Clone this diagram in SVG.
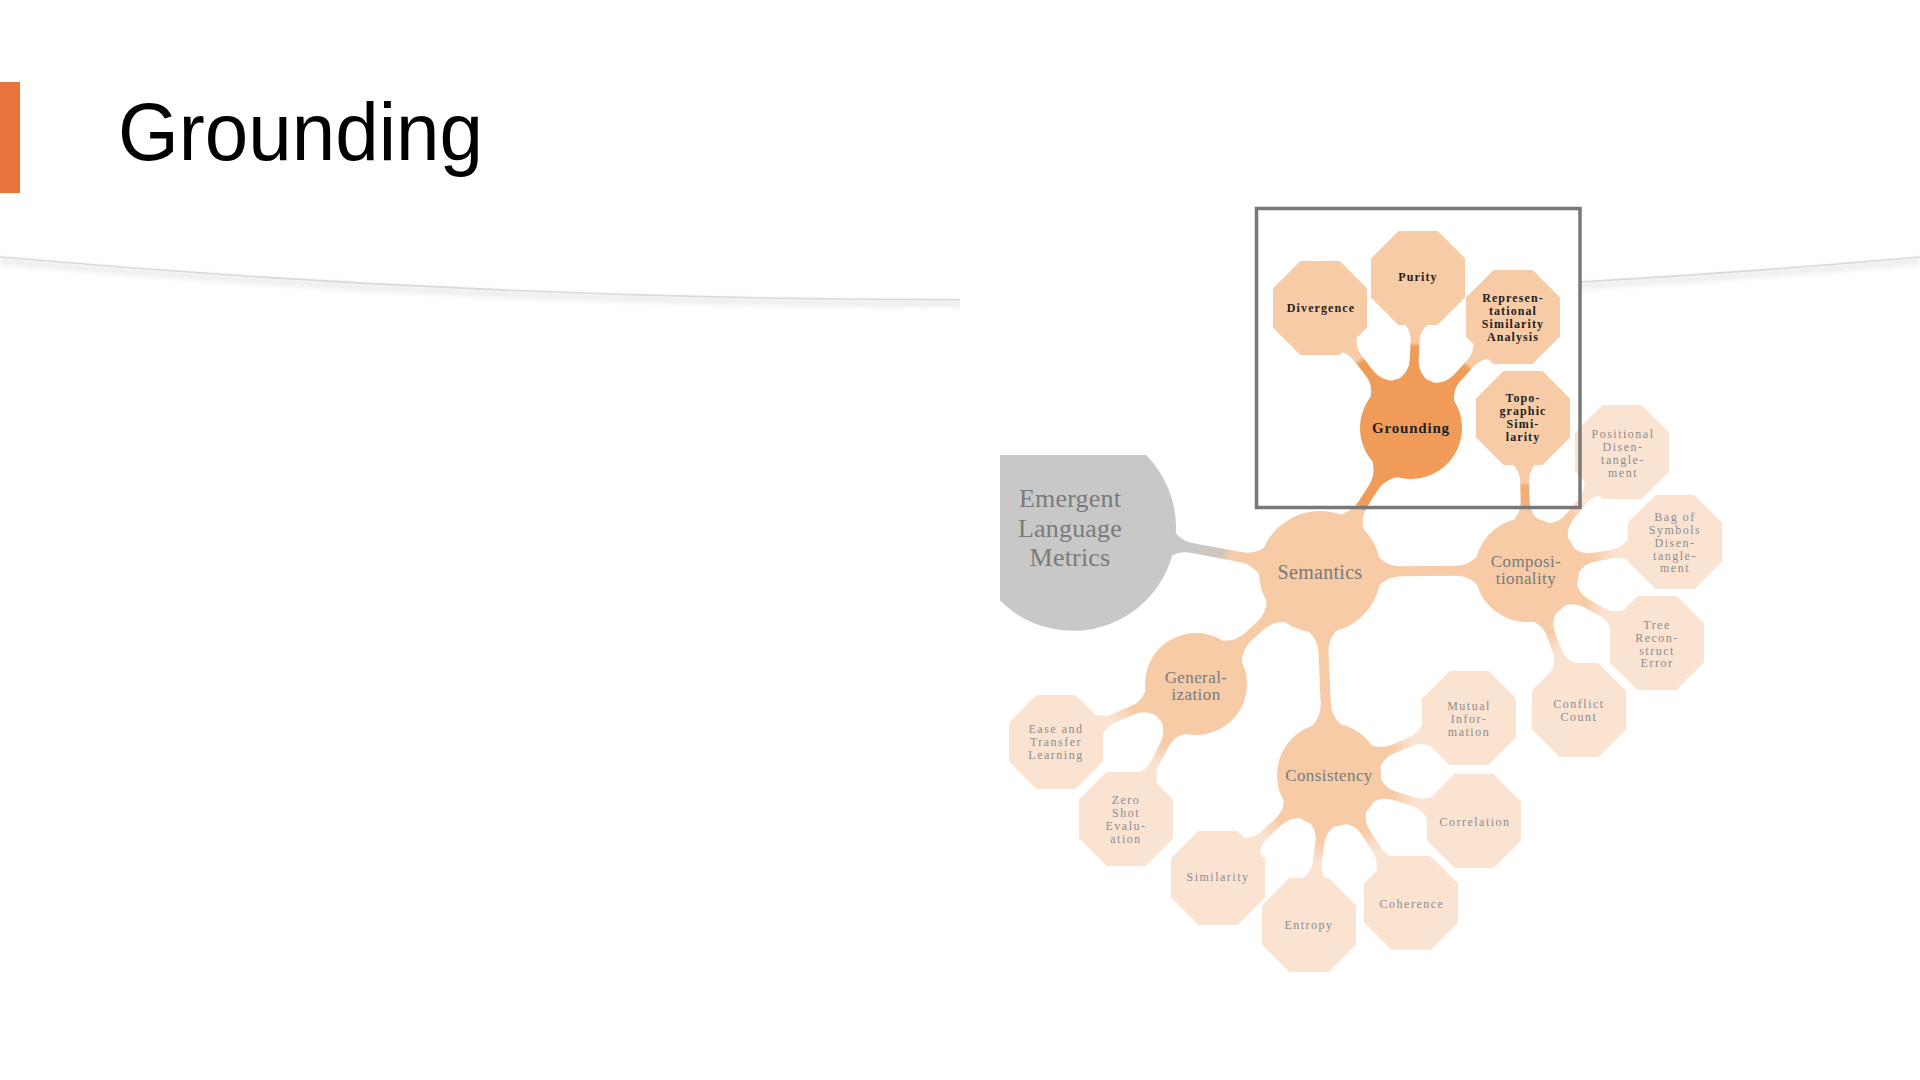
<svg xmlns="http://www.w3.org/2000/svg" width="1920" height="1080" viewBox="0 0 1920 1080">
<defs>
<style>
.peach{fill:#F7CBA5}
.light{fill:#FBE3D2}
.orange{fill:#F09B57}
.tin{font-family:'Liberation Serif','DejaVu Serif',serif;font-size:12px;font-weight:bold;fill:#222;letter-spacing:1.1px;text-anchor:middle;dominant-baseline:central}
.tout{font-family:'Liberation Serif','DejaVu Serif',serif;font-size:12px;fill:#8c8c8c;letter-spacing:1.5px;text-anchor:middle;dominant-baseline:central}
.tmain{font-family:'Liberation Serif','DejaVu Serif',serif;font-size:17px;fill:#7a7a7a;letter-spacing:0.4px;text-anchor:middle;dominant-baseline:central}
</style>
<polygon id="oct" points="-19.5,-47 19.5,-47 47,-19.5 47,19.5 19.5,47 -19.5,47 -47,19.5 -47,-19.5"/>
<linearGradient id="gE" x1="0" y1="0" x2="1" y2="0"><stop offset="0" stop-color="#F7CBA5"/><stop offset="0.36" stop-color="#F7CBA5"/><stop offset="0.44" stop-color="#D2C6BE"/><stop offset="0.75" stop-color="#C8C8C8"/><stop offset="1" stop-color="#C8C8C8"/></linearGradient>
<linearGradient id="gSG" x1="0" y1="0" x2="1" y2="0"><stop offset="0" stop-color="#F7CBA5"/><stop offset="0.3" stop-color="#F7CBA5"/><stop offset="0.34" stop-color="#F09B57"/><stop offset="1" stop-color="#F09B57"/></linearGradient>
<linearGradient id="gGL" x1="0" y1="0" x2="1" y2="0"><stop offset="0" stop-color="#F09B57"/><stop offset="0.55" stop-color="#F09B57"/><stop offset="0.62" stop-color="#F7CBA5"/><stop offset="1" stop-color="#F7CBA5"/></linearGradient>
<linearGradient id="gTo" x1="0" y1="0" x2="1" y2="0"><stop offset="0" stop-color="#F7CBA5"/><stop offset="0.26" stop-color="#F7CBA5"/><stop offset="0.29" stop-color="#F3AE75"/><stop offset="0.58" stop-color="#F3AE75"/><stop offset="0.62" stop-color="#F7CBA5"/><stop offset="1" stop-color="#F7CBA5"/></linearGradient>
<linearGradient id="gL" x1="0" y1="0" x2="1" y2="0"><stop offset="0" stop-color="#F7CBA5"/><stop offset="0.35" stop-color="#F7CBA5"/><stop offset="0.65" stop-color="#FBE3D2"/><stop offset="1" stop-color="#FBE3D2"/></linearGradient>
<clipPath id="arcclip"><rect x="0" y="200" width="960" height="170"/><rect x="1580" y="200" width="340" height="170"/></clipPath>
<filter id="soft" x="-5%" y="-50%" width="110%" height="200%"><feGaussianBlur stdDeviation="2.5"/></filter>
</defs>

<rect x="0" y="0" width="1920" height="1080" fill="#FFFFFF"/>

<g id="title">
<rect x="0" y="82" width="20" height="111" fill="#E8743B"/>
<text x="118" y="160" font-family="'Liberation Sans',Arial,sans-serif" font-size="81" fill="#000" textLength="365" lengthAdjust="spacingAndGlyphs">Grounding</text>
</g>

<g id="swoosh" clip-path="url(#arcclip)">
<path d="M0,261 Q960,346.6 1920,261" fill="none" stroke="#000" stroke-opacity="0.07" stroke-width="7" filter="url(#soft)"/>
<path d="M0,257 Q960,342.6 1920,257" fill="none" stroke="#D9D9D9" stroke-width="1.6"/>
</g>

<g id="connectors">
<path fill="url(#gE)" transform="translate(1320,572) rotate(190.65)" d="M51,-26 Q61,-5 81,-5 L131,-5 Q151,-5 161,-30 L161,30 Q151,5 131,5 L81,5 Q61,5 51,26Z"/>
<path fill="url(#gSG)" transform="translate(1320,572) rotate(-57.7)" d="M51,-26 Q61,-5 81,-5 L99,-5 Q119,-5 129,-26 L129,26 Q119,5 99,5 L81,5 Q61,5 51,26Z"/>
<path class="peach" transform="translate(1320,572) rotate(-0.55)" d="M51,-26 Q61,-5 81,-5 L135,-5 Q155,-5 165,-26 L165,26 Q155,5 135,5 L81,5 Q61,5 51,26Z"/>
<path class="peach" transform="translate(1320,572) rotate(137.9)" d="M51,-26 Q61,-5 81,-5 L96,-5 Q116,-5 126,-26 L126,26 Q116,5 96,5 L81,5 Q61,5 51,26Z"/>
<path class="peach" transform="translate(1320,572) rotate(87.5)" d="M51,-26 Q61,-5 81,-5 L131,-5 Q151,-5 161,-26 L161,26 Q151,5 131,5 L81,5 Q61,5 51,26Z"/>

<path fill="url(#gGL)" transform="translate(1411,428) rotate(-127.2)" d="M42,-24 Q52,-4.5 68,-4.5 L88,-4.5 Q104,-4.5 114,-24 L114,24 Q104,4.5 88,4.5 L68,4.5 Q52,4.5 42,24Z"/>
<path fill="url(#gGL)" transform="translate(1411,428) rotate(-87.3)" d="M42,-24 Q52,-4.5 68,-4.5 L87,-4.5 Q103,-4.5 113,-24 L113,24 Q103,4.5 87,4.5 L68,4.5 Q52,4.5 42,24Z"/>
<path fill="url(#gGL)" transform="translate(1411,428) rotate(-47.4)" d="M42,-24 Q52,-4.5 68,-4.5 L88,-4.5 Q104,-4.5 114,-24 L114,24 Q104,4.5 88,4.5 L68,4.5 Q52,4.5 42,24Z"/>

<path fill="url(#gTo)" transform="translate(1527,570) rotate(-91.5)" d="M42,-24 Q52,-4.5 68,-4.5 L89,-4.5 Q105,-4.5 115,-24 L115,24 Q105,4.5 89,4.5 L68,4.5 Q52,4.5 42,24Z"/>
<path fill="url(#gL)" transform="translate(1527,570) rotate(-51.2)" d="M42,-24 Q52,-4.5 68,-4.5 L89,-4.5 Q105,-4.5 115,-24 L115,24 Q105,4.5 89,4.5 L68,4.5 Q52,4.5 42,24Z"/>
<path fill="url(#gL)" transform="translate(1527,570) rotate(-10.7)" d="M42,-24 Q52,-4.5 68,-4.5 L88,-4.5 Q104,-4.5 114,-24 L114,24 Q104,4.5 88,4.5 L68,4.5 Q52,4.5 42,24Z"/>
<path fill="url(#gL)" transform="translate(1527,570) rotate(29.3)" d="M42,-24 Q52,-4.5 68,-4.5 L86,-4.5 Q102,-4.5 112,-24 L112,24 Q102,4.5 86,4.5 L68,4.5 Q52,4.5 42,24Z"/>
<path fill="url(#gL)" transform="translate(1527,570) rotate(69.6)" d="M42,-24 Q52,-4.5 68,-4.5 L86,-4.5 Q102,-4.5 112,-24 L112,24 Q102,4.5 86,4.5 L68,4.5 Q52,4.5 42,24Z"/>

<path fill="url(#gL)" transform="translate(1196,684) rotate(157.5)" d="M42,-24 Q52,-4.5 68,-4.5 L89,-4.5 Q105,-4.5 115,-24 L115,24 Q105,4.5 89,4.5 L68,4.5 Q52,4.5 42,24Z"/>
<path fill="url(#gL)" transform="translate(1196,684) rotate(117.4)" d="M42,-24 Q52,-4.5 68,-4.5 L89,-4.5 Q105,-4.5 115,-24 L115,24 Q105,4.5 89,4.5 L68,4.5 Q52,4.5 42,24Z"/>

<path fill="url(#gL)" transform="translate(1329,775) rotate(-22.2)" d="M42,-24 Q52,-4.5 68,-4.5 L88,-4.5 Q104,-4.5 114,-24 L114,24 Q104,4.5 88,4.5 L68,4.5 Q52,4.5 42,24Z"/>
<path fill="url(#gL)" transform="translate(1329,775) rotate(17.6)" d="M42,-24 Q52,-4.5 68,-4.5 L89,-4.5 Q105,-4.5 115,-24 L115,24 Q105,4.5 89,4.5 L68,4.5 Q52,4.5 42,24Z"/>
<path fill="url(#gL)" transform="translate(1329,775) rotate(57.4)" d="M42,-24 Q52,-4.5 68,-4.5 L89,-4.5 Q105,-4.5 115,-24 L115,24 Q105,4.5 89,4.5 L68,4.5 Q52,4.5 42,24Z"/>
<path fill="url(#gL)" transform="translate(1329,775) rotate(97.6)" d="M42,-24 Q52,-4.5 68,-4.5 L88,-4.5 Q104,-4.5 114,-24 L114,24 Q104,4.5 88,4.5 L68,4.5 Q52,4.5 42,24Z"/>
<path fill="url(#gL)" transform="translate(1329,775) rotate(137.1)" d="M42,-24 Q52,-4.5 68,-4.5 L88,-4.5 Q104,-4.5 114,-24 L114,24 Q104,4.5 88,4.5 L68,4.5 Q52,4.5 42,24Z"/>
</g>

<g id="node-emergent">
<path d="M1000,455 L1146,455 A103,103 0 0 1 1000,600.6 Z" fill="#C8C8C8"/>
<text class="tmain" style="font-size:26px;letter-spacing:0.2px;fill:#7b7b7b"><tspan x="1070" y="498">Emergent</tspan><tspan x="1070" y="528">Language</tspan><tspan x="1070" y="557">Metrics</tspan></text>
</g>

<g id="node-semantics">
<circle cx="1320" cy="572" r="61" class="peach"/>
<text x="1320" y="572" class="tmain" style="font-size:20px;letter-spacing:0.3px">Semantics</text>
</g>

<g id="node-grounding">
<circle cx="1411" cy="428" r="51" class="orange"/>
<text x="1411" y="428" class="tin" style="font-size:15px;letter-spacing:0.8px">Grounding</text>
</g>

<g id="node-compositionality">
<circle cx="1527" cy="570" r="52" class="peach"/>
<text class="tmain"><tspan x="1526" y="561">Composi-</tspan><tspan x="1526" y="578">tionality</tspan></text>
</g>

<g id="node-generalization">
<circle cx="1196" cy="684" r="51" class="peach"/>
<text class="tmain"><tspan x="1196" y="677">General-</tspan><tspan x="1196" y="694">ization</tspan></text>
</g>

<g id="node-consistency">
<circle cx="1329" cy="775" r="52" class="peach"/>
<text x="1329" y="775" class="tmain">Consistency</text>
</g>

<g id="node-divergence">
<use href="#oct" x="1320" y="308" class="peach"/>
<text x="1321" y="308" class="tin">Divergence</text>
</g>

<g id="node-purity">
<use href="#oct" x="1418" y="278" class="peach"/>
<text x="1418" y="277" class="tin">Purity</text>
</g>

<g id="node-rsa">
<use href="#oct" x="1513" y="317" class="peach"/>
<text class="tin"><tspan x="1513" y="298">Represen-</tspan><tspan x="1513" y="311">tational</tspan><tspan x="1513" y="324">Similarity</tspan><tspan x="1513" y="337">Analysis</tspan></text>
</g>

<g id="node-topographic">
<use href="#oct" x="1523" y="418" class="peach"/>
<text class="tin"><tspan x="1523" y="398">Topo-</tspan><tspan x="1523" y="411">graphic</tspan><tspan x="1523" y="424">Simi-</tspan><tspan x="1523" y="437">larity</tspan></text>
</g>

<g id="node-positional">
<use href="#oct" x="1622" y="452" class="light"/>
<text class="tout"><tspan x="1623" y="434">Positional</tspan><tspan x="1623" y="447">Disen-</tspan><tspan x="1623" y="460">tangle-</tspan><tspan x="1623" y="473">ment</tspan></text>
</g>

<g id="node-bag">
<use href="#oct" x="1675" y="542" class="light"/>
<text class="tout"><tspan x="1675" y="517">Bag of</tspan><tspan x="1675" y="530">Symbols</tspan><tspan x="1675" y="543">Disen-</tspan><tspan x="1675" y="556">tangle-</tspan><tspan x="1675" y="568">ment</tspan></text>
</g>

<g id="node-tree">
<use href="#oct" x="1657" y="643" class="light"/>
<text class="tout"><tspan x="1657" y="625">Tree</tspan><tspan x="1657" y="638">Recon-</tspan><tspan x="1657" y="651">struct</tspan><tspan x="1657" y="663">Error</tspan></text>
</g>

<g id="node-conflict">
<use href="#oct" x="1579" y="710" class="light"/>
<text class="tout"><tspan x="1579" y="704">Conflict</tspan><tspan x="1579" y="717">Count</tspan></text>
</g>

<g id="node-mutual">
<use href="#oct" x="1469" y="718" class="light"/>
<text class="tout"><tspan x="1469" y="706">Mutual</tspan><tspan x="1469" y="719">Infor-</tspan><tspan x="1469" y="732">mation</tspan></text>
</g>

<g id="node-correlation">
<use href="#oct" x="1474" y="821" class="light"/>
<text x="1475" y="822" class="tout">Correlation</text>
</g>

<g id="node-coherence">
<use href="#oct" x="1411" y="903" class="light"/>
<text x="1412" y="904" class="tout">Coherence</text>
</g>

<g id="node-entropy">
<use href="#oct" x="1309" y="925" class="light"/>
<text x="1309" y="925" class="tout">Entropy</text>
</g>

<g id="node-similarity">
<use href="#oct" x="1218" y="878" class="light"/>
<text x="1218" y="877" class="tout">Similarity</text>
</g>

<g id="node-ease">
<use href="#oct" x="1056" y="742" class="light"/>
<text class="tout"><tspan x="1056" y="729">Ease and</tspan><tspan x="1056" y="742">Transfer</tspan><tspan x="1056" y="755">Learning</tspan></text>
</g>

<g id="node-zeroshot">
<use href="#oct" x="1126" y="819" class="light"/>
<text class="tout"><tspan x="1126" y="800">Zero</tspan><tspan x="1126" y="813">Shot</tspan><tspan x="1126" y="826">Evalu-</tspan><tspan x="1126" y="839">ation</tspan></text>
</g>

<g id="highlight-box">
<rect x="1256.5" y="208.5" width="323.5" height="299" fill="none" stroke="#787878" stroke-width="3.5"/>
</g>
</svg>
